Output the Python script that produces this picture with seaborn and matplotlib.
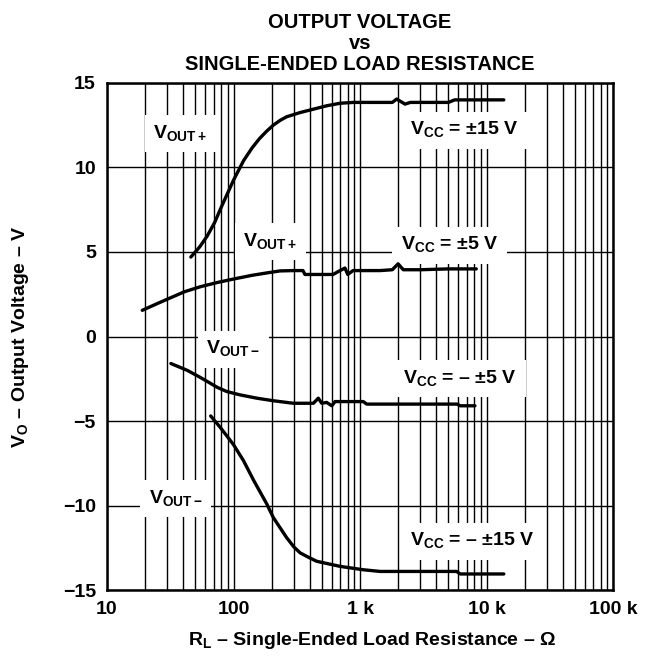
import numpy as np
import pandas as pd
import matplotlib
matplotlib.use("Agg")
import matplotlib.pyplot as plt
import seaborn as sns
from matplotlib.ticker import LogLocator, NullFormatter

# Data (R in ohms, V in volts)
r_pos15 = [46, 54, 62, 71, 80, 100, 120, 140, 160, 183, 206, 235, 263, 336, 428, 545, 695,
           886, 1440, 1800, 1950, 2100, 2270, 2500, 5000, 5600, 13700]
v_pos15 = [4.7, 5.3, 5.95, 6.75, 7.65, 9.25, 10.4, 11.15, 11.7, 12.15, 12.5, 12.8, 13.0,
           13.25, 13.45, 13.65, 13.8, 13.85, 13.85, 13.85, 14.05, 13.9, 13.75, 13.85,
           13.85, 14.0, 14.0]

r_pos5 = [19, 25, 32, 41, 55, 75, 100, 140, 190, 233, 300, 354, 367, 500, 612, 695,
          760, 800, 880, 1100, 1440, 1800, 2000, 2200, 3000, 5000, 8300]
v_pos5 = [1.55, 1.95, 2.3, 2.65, 2.95, 3.2, 3.4, 3.62, 3.78, 3.88, 3.9, 3.9, 3.67, 3.67,
          3.67, 3.9, 4.05, 3.67, 3.9, 3.9, 3.9, 3.95, 4.3, 3.95, 3.95, 4.0, 4.0]

r_neg5 = [32, 43, 54, 65, 74, 88, 112, 153, 206, 297, 428, 468, 498, 545, 598, 635, 1060,
          1130, 2000, 4000, 5850, 6200, 8100]
v_neg5 = [-1.6, -2.0, -2.4, -2.75, -3.0, -3.25, -3.45, -3.65, -3.8, -3.95, -3.95, -3.65,
          -3.95, -3.9, -4.1, -3.85, -3.85, -4.0, -4.0, -4.0, -4.0, -4.1, -4.1]

r_neg15 = [66, 78, 90, 100, 120, 144, 183, 206, 235, 263, 300, 336, 400, 455, 695, 1060,
           1440, 3000, 5800, 6200, 10000, 13700]
v_neg15 = [-4.7, -5.35, -5.95, -6.4, -7.35, -8.5, -9.9, -10.7, -11.35, -11.9, -12.45,
           -12.8, -13.1, -13.3, -13.6, -13.8, -13.9, -13.9, -13.9, -14.05, -14.05, -14.05]

xticks = [10, 100, 1000, 10000, 100000]
xticklabels = ["10", "100", "1 k", "10 k", "100 k"]
yticks = [15, 10, 5, 0, -5, -10, -15]
yticklabels = ["15", "10", "5", "0", "\u22125", "\u221210", "\u221215"]

# curve labels: (text, R, V)
labels = [
    ("V$_{\\mathdefault{OUT+}}$", 38, 12.0),
    ("V$_{\\mathdefault{OUT+}}$", 195, 5.6),
    ("V$_{\\mathdefault{OUT-}}$", 100, -0.75),
    ("V$_{\\mathdefault{OUT-}}$", 35, -9.6),
    ("V$_{\\mathdefault{CC}}$ = \u00b115 V", 6700, 12.2),
    ("V$_{\\mathdefault{CC}}$ = \u00b15 V", 5100, 5.4),
    ("V$_{\\mathdefault{CC}}$ = \u2013 \u00b15 V", 6200, -2.5),
    ("V$_{\\mathdefault{CC}}$ = \u2013 \u00b115 V", 7700, -12.1),
]

sns.set_style("white")
plt.rcParams["font.family"] = ["Liberation Sans", "DejaVu Sans"]
plt.rcParams["font.weight"] = "bold"
plt.rcParams["mathtext.fontset"] = "custom"
plt.rcParams["mathtext.rm"] = "Liberation Sans:bold"
plt.rcParams["text.color"] = "black"
plt.rcParams["axes.labelcolor"] = "black"
plt.rcParams["xtick.color"] = "black"
plt.rcParams["ytick.color"] = "black"

fig = plt.figure(figsize=(6.61, 6.58), dpi=100)
ax = fig.add_axes([0.1619, 0.1033, 0.7655, 0.7706])

for r, v in [(r_pos15, v_pos15), (r_pos5, v_pos5), (r_neg5, v_neg5), (r_neg15, v_neg15)]:
    df = pd.DataFrame({"R": r, "V": v})
    sns.lineplot(data=df, x="R", y="V", ax=ax, color="black", lw=2.4,
                 estimator=None, sort=False, zorder=4)

ax.set_xscale("log")
ax.set_xlim(10, 100000)
ax.set_ylim(-15, 15)
ax.xaxis.set_minor_locator(LogLocator(base=10, subs=np.arange(2, 10)))
ax.xaxis.set_minor_formatter(NullFormatter())
ax.set_xticks(xticks)
ax.set_xticklabels(xticklabels, fontsize=14, fontweight="bold")
ax.set_yticks(yticks)
ax.set_yticklabels(yticklabels, fontsize=14, fontweight="bold")
ax.tick_params(which="both", length=0, pad=8, colors="black")

ax.grid(which="both", axis="x", color="black", lw=1.0)
ax.grid(which="major", axis="y", color="black", lw=1.0)
ax.set_axisbelow(True)
for s in ax.spines.values():
    s.set_linewidth(1.8)
    s.set_color("black")

for txt, r, v in labels:
    ax.text(r, v, txt, fontsize=14, fontweight="bold", ha="center", va="center",
            color="black", zorder=3,
            bbox=dict(facecolor="white", edgecolor="none", pad=6))

ax.set_xlabel("R$_{\\mathdefault{L}}$ \u2013 Single-Ended Load Resistance \u2013 \u03a9",
              fontsize=14, fontweight="bold", color="black")
ax.xaxis.set_label_coords(0.524, -0.079)
ax.set_ylabel("V$_{\\mathdefault{O}}$ \u2013 Output Voltage \u2013 V",
              fontsize=14, fontweight="bold", color="black")
ax.yaxis.set_label_coords(-0.15, 0.5)
ax.set_title("OUTPUT VOLTAGE\nvs\nSINGLE-ENDED LOAD RESISTANCE", fontsize=14.5,
             fontweight="bold", linespacing=1.15, pad=9, color="black")

fig.savefig("out.png", dpi=100, facecolor="white")
